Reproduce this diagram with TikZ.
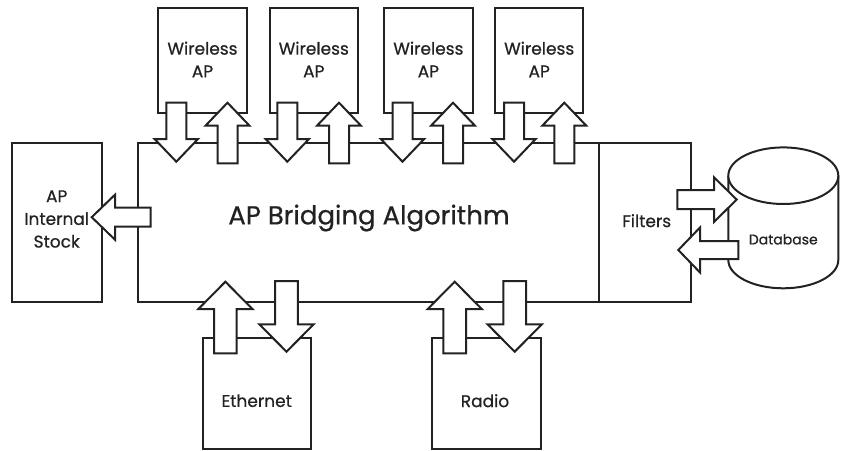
\documentclass[tikz,border=0pt]{standalone}
\usepackage{fontspec}
\setmainfont{Poppins}[FakeBold=0.6]
\definecolor{ink}{HTML}{222222}
% vertical block arrows: #1 x, #2 tail y, #3 tip y, #4 shaft half width, #5 head half width, #6 head length
\newcommand\blkdown[6]{\draw[blk] (#1-#4,#2) -- (#1+#4,#2) -- (#1+#4,#3-#6) -- (#1+#5,#3-#6) -- (#1,#3) -- (#1-#5,#3-#6) -- (#1-#4,#3-#6) -- cycle;}
\newcommand\blkup[6]{\draw[blk] (#1-#4,#2) -- (#1+#4,#2) -- (#1+#4,#3+#6) -- (#1+#5,#3+#6) -- (#1,#3) -- (#1-#5,#3+#6) -- (#1-#4,#3+#6) -- cycle;}
% horizontal block arrows: #1 y, #2 tail x, #3 tip x
\newcommand\blkleft[6]{\draw[blk] (#2,#1-#4) -- (#2,#1+#4) -- (#3+#6,#1+#4) -- (#3+#6,#1+#5) -- (#3,#1) -- (#3+#6,#1-#5) -- (#3+#6,#1-#4) -- cycle;}
\newcommand\blkright[6]{\draw[blk] (#2,#1-#4) -- (#2,#1+#4) -- (#3-#6,#1+#4) -- (#3-#6,#1+#5) -- (#3,#1) -- (#3-#6,#1-#5) -- (#3-#6,#1-#4) -- cycle;}
\begin{document}
\begin{tikzpicture}[x=1pt,y=-1pt,
  box/.style={draw=ink, line width=2pt, inner sep=0pt, fill=white},
  blk/.style={draw=ink, line width=2pt, fill=white, line join=miter},
  lbl/.style={text=ink, font=\fontsize{17}{22.7}\selectfont, align=center, inner sep=0pt}]
\useasboundingbox[fill=white] (0,0) rectangle (841,450);

% boxes
\node[box, minimum width=88.5pt, minimum height=105.5pt] (ap1) at (202.5,60.5) {};
\node[box, minimum width=88.5pt, minimum height=105.5pt] (ap2) at (313.8,60.5) {};
\node[box, minimum width=88.5pt, minimum height=105.5pt] (ap3) at (428.4,60.5) {};
\node[box, minimum width=88.5pt, minimum height=105.5pt] (ap4) at (539.2,60.5) {};
\node[box, minimum width=90.6pt, minimum height=158.6pt] (stock) at (57,222.4) {};
\node[box, minimum width=461pt, minimum height=158.6pt] (algo) at (368.8,222.4) {};
\node[box, minimum width=91.4pt, minimum height=158.6pt] (filters) at (645,222.4) {};
\node[box, minimum width=107.4pt, minimum height=110.6pt] (eth) at (257,393.6) {};
\node[box, minimum width=108.4pt, minimum height=110.6pt] (radio) at (486.5,393.6) {};

% database cylinder
\coordinate (dbc) at (783.3,175.7);
\draw[blk] (728.3,175.7) -- (728.3,260) arc[start angle=180, end angle=0, x radius=55, y radius=28.3] -- (838.3,175.7);
\draw[blk] (dbc) ellipse [x radius=55, y radius=28.3];

% texts
\node[lbl] (ap1t) at (202.5,59.5) {Wireless\\AP};
\node[lbl] (ap2t) at (313.8,59.5) {Wireless\\AP};
\node[lbl] (ap3t) at (428.4,59.5) {Wireless\\AP};
\node[lbl] (ap4t) at (539.2,59.5) {Wireless\\AP};
\node[lbl] (stockt) at (56.7,219) {AP\\Internal\\Stock};
\node[lbl, font=\fontsize{26}{30}\selectfont] (algot) at (369,218) {AP Bridging Algorithm};
\node[lbl] (filterst) at (646.7,220.7) {Filters};
\node[lbl, font=\fontsize{14}{16}\selectfont] (dbt) at (783.3,239.3) {Database};
\node[lbl] (etht) at (256.7,400.7) {Ethernet};
\node[lbl] (radiot) at (485,400.7) {Radio};

% wireless AP arrows
\blkdown{176.3}{102.7}{161.7}{10}{21.7}{22.7}
\blkup{227.5}{163.3}{102.7}{10}{22}{23}
\blkdown{287.3}{102.7}{161.7}{10}{21.7}{22.7}
\blkup{339}{163.3}{102.7}{10}{22}{23}
\blkdown{402.5}{102.7}{161.7}{10}{21.7}{22.7}
\blkup{453}{163.3}{102.7}{10}{22}{23}
\blkdown{514}{102.7}{161.7}{10}{21.7}{22.7}
\blkup{564.3}{163.3}{102.7}{10}{22}{23}

% stock arrow
\blkleft{217.2}{150.7}{91.7}{9.5}{22.5}{23.3}

% database arrows
\blkright{199.6}{677.3}{736.7}{9.6}{22.3}{22.7}
\blkleft{250}{738.3}{678.3}{9}{22.5}{21.7}

% ethernet and radio arrows
\blkup{225.4}{353.3}{281.7}{11.3}{27}{27.3}
\blkdown{286.5}{281}{351.7}{11.3}{27.2}{27.4}
\blkup{454.7}{353.3}{281.7}{11.3}{27}{27.3}
\blkdown{514.7}{281}{351.7}{11.3}{27.2}{27.4}
\end{tikzpicture}
\end{document}
